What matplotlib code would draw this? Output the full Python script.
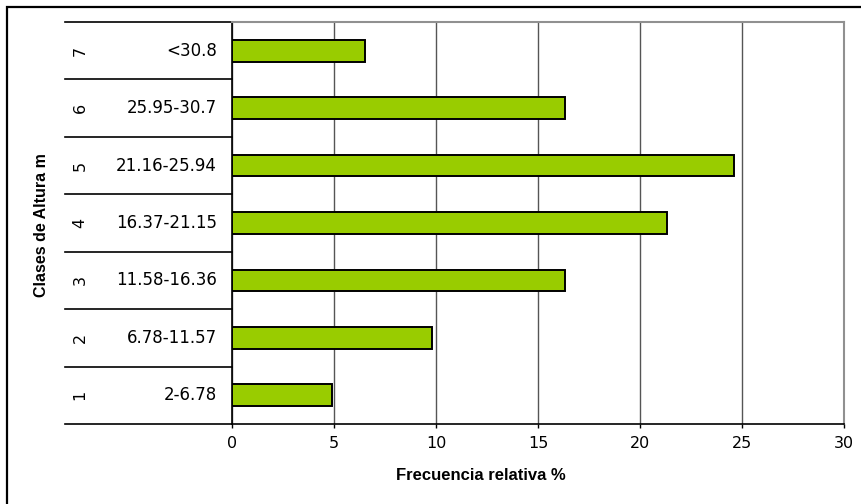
import numpy as np
import matplotlib
matplotlib.use("Agg")
import matplotlib.pyplot as plt
import matplotlib.transforms as mtransforms
from matplotlib.patches import Rectangle

# height classes (bottom to top) and relative frequency in %
clases = ["1", "2", "3", "4", "5", "6", "7"]
rangos = ["2-6.78", "6.78-11.57", "11.58-16.36", "16.37-21.15",
          "21.16-25.94", "25.95-30.7", "<30.8"]
frecuencia = [4.9, 9.8, 16.3, 21.3, 24.6, 16.3, 6.5]
xticks = [0, 5, 10, 15, 20, 25, 30]

W, H = 862, 504
fig = plt.figure(figsize=(W / 100, H / 100), dpi=100)
fig.patch.set_facecolor("white")

# outer chart frame (runs off the right and bottom edges)
fig.patches.append(Rectangle((7 / W, -0.05), 1.2, 1 - 7 / H + 0.05,
                             transform=fig.transFigure, fill=False,
                             edgecolor="black", linewidth=1.6))

x0, x1, y0, y1 = 232, 844, 22, 424
ax = fig.add_axes([x0 / W, 1 - y1 / H, (x1 - x0) / W, (y1 - y0) / H])

pos = np.arange(len(clases))
ax.barh(pos, frecuencia, height=0.38, color="#99CC00",
        edgecolor="black", linewidth=1.4, zorder=3)

ax.set_xlim(0, 30)
ax.set_ylim(-0.5, len(clases) - 0.5)
ax.set_xticks(xticks)
ax.set_xticklabels([str(t) for t in xticks], fontsize=11.5,
                   family="DejaVu Sans")
ax.set_yticks([])
ax.xaxis.grid(True, color="#555555", linewidth=1.0, zorder=0)
ax.tick_params(axis="x", direction="out", length=3, width=1,
               color="black", pad=6)

for side in ["top", "right"]:
    ax.spines[side].set_color("#909090")
    ax.spines[side].set_linewidth(1.5)
for side in ["left", "bottom"]:
    ax.spines[side].set_color("black")
    ax.spines[side].set_linewidth(1.2)

# two-level category table left of the axis
trans = mtransforms.blended_transform_factory(ax.transAxes, ax.transData)
left = (65 - x0) / (x1 - x0)
for k in range(len(clases) + 1):
    ax.plot([left, 0], [k - 0.5, k - 0.5], color="black", linewidth=1.2,
            transform=trans, clip_on=False)
for k in range(len(clases)):
    ax.text((80 - x0) / (x1 - x0), pos[k], clases[k], transform=trans,
            rotation=90, ha="center", va="center", fontsize=11.5,
            family="DejaVu Sans")
    ax.text((217 - x0) / (x1 - x0), pos[k], rangos[k], transform=trans,
            ha="right", va="center", fontsize=12, family="DejaVu Sans")

fig.text(481 / W, 1 - 476 / H, "Frecuencia relativa %", ha="center",
         va="center", fontsize=12, fontweight="bold",
         family="Liberation Sans")
fig.text(42 / W, 1 - 225 / H, "Clases de Altura m", ha="center",
         va="center", rotation=90, fontsize=11.5, fontweight="bold",
         family="Liberation Sans")

fig.savefig("out.png", dpi=100)
